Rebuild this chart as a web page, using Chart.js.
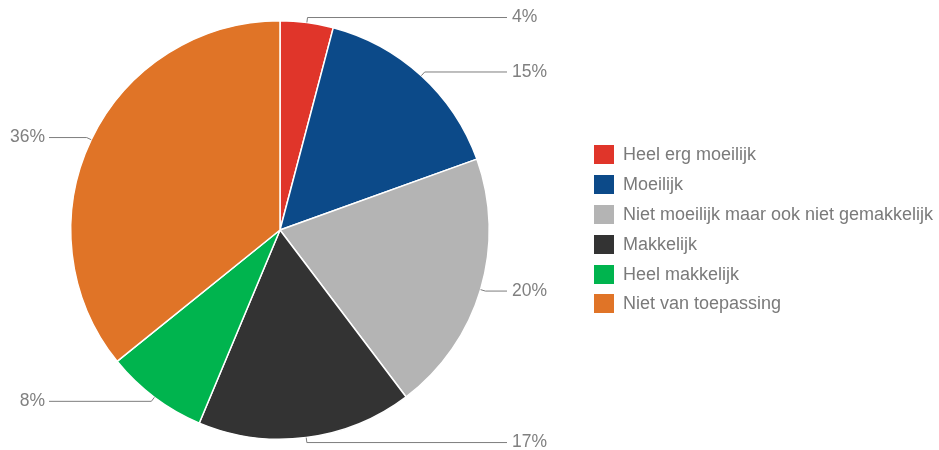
<!DOCTYPE html>
<html lang="nl">
<head>
    <meta charset="UTF-8">
    <title>Moeilijkheid</title>
    <script src="https://cdn.jsdelivr.net/npm/chart.js"></script>
    <style>
        body {
            margin: 0;
            background: #fff;
            font-family: "Liberation Sans", Arial, sans-serif;
        }
        .wrap {
            position: relative;
            width: 939px;
            height: 450px;
        }
        #legend {
            position: absolute;
            left: 594px;
            top: 140px;
            margin: 0;
            padding: 0;
            list-style: none;
        }
        #legend li {
            display: flex;
            align-items: center;
            height: 29.8px;
            font-size: 18px;
            color: #7a7a7a;
            white-space: nowrap;
        }
        #legend span {
            display: inline-block;
            width: 20px;
            height: 19px;
            margin-right: 9px;
        }
    </style>
</head>
<body>
    <div class="wrap">
        <canvas id="pie" width="939" height="450"></canvas>
        <ul id="legend"></ul>
    </div>

    <script>
        const categories = [
            'Heel erg moeilijk',
            'Moeilijk',
            'Niet moeilijk maar ook niet gemakkelijk',
            'Makkelijk',
            'Heel makkelijk',
            'Niet van toepassing'
        ];
        const shares = [4.1, 15.4, 20.2, 16.6, 7.9, 35.8];
        const sliceColors = ['#e0352a', '#0c4a89', '#b4b4b4', '#333333', '#00b44e', '#e07427'];

        // leader lines with percentage labels outside the pie
        const leaderLabels = {
            id: 'leaderLabels',
            afterDatasetsDraw(chart) {
                const ctx = chart.ctx;
                const meta = chart.getDatasetMeta(0);
                const total = shares.reduce((a, b) => a + b, 0);
                ctx.save();
                ctx.strokeStyle = '#7d7d7d';
                ctx.lineWidth = 1;
                ctx.fillStyle = '#808080';
                ctx.font = '17.5px "Liberation Sans", Arial, sans-serif';
                ctx.textBaseline = 'middle';
                meta.data.forEach((arc, i) => {
                    const p = arc.getProps(['x', 'y', 'startAngle', 'endAngle', 'outerRadius'], true);
                    const mid = (p.startAngle + p.endAngle) / 2;
                    const x0 = p.x + Math.cos(mid) * p.outerRadius;
                    const y0 = p.y + Math.sin(mid) * p.outerRadius;
                    const x1 = p.x + Math.cos(mid) * (p.outerRadius + 5);
                    const y1 = p.y + Math.sin(mid) * (p.outerRadius + 5);
                    const right = Math.cos(mid) >= 0;
                    const xEnd = right ? 507 : 49;
                    ctx.beginPath();
                    ctx.moveTo(x0, y0);
                    ctx.lineTo(x1, y1);
                    ctx.lineTo(xEnd, y1);
                    ctx.stroke();
                    const txt = Math.round(shares[i] / total * 100) + '%';
                    ctx.textAlign = right ? 'left' : 'right';
                    ctx.fillText(txt, right ? 512 : 45, y1);
                });
                ctx.restore();
            }
        };

        new Chart(document.getElementById('pie'), {
            type: 'pie',
            data: {
                labels: categories,
                datasets: [{
                    data: shares,
                    backgroundColor: sliceColors,
                    borderColor: '#ffffff',
                    borderWidth: 1.5
                }]
            },
            options: {
                responsive: false,
                animation: false,
                layout: {
                    padding: { top: 20, bottom: 10, left: 70, right: 449 }
                },
                plugins: {
                    legend: { display: false },
                    tooltip: { enabled: false }
                }
            },
            plugins: [leaderLabels]
        });

        const legend = document.getElementById('legend');
        categories.forEach((name, i) => {
            const li = document.createElement('li');
            const box = document.createElement('span');
            box.style.background = sliceColors[i];
            li.appendChild(box);
            li.appendChild(document.createTextNode(name));
            legend.appendChild(li);
        });
    </script>
</body>
</html>
